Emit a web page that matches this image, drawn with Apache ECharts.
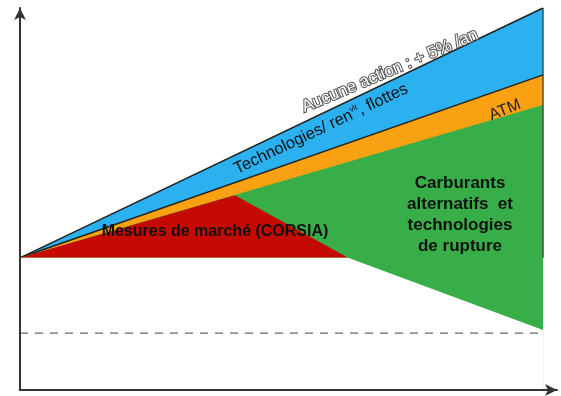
<!DOCTYPE html>
<html>
<head>
<meta charset="utf-8">
<script src="https://cdn.jsdelivr.net/npm/echarts@6/dist/echarts.min.js"></script>
<style>
  html, body { margin: 0; padding: 0; background: #fff; }
  #chart { width: 561px; height: 396px; }
</style>
</head>
<body>
<div id="chart"></div>
<script>
// trajectoires (x : temps, y : émissions, unités arbitraires)
const sansAction = [[0, 34.6], [97.4, 100]];        // Aucune action : +5%/an
const technologies = [[0, 34.6], [97.4, 82.5]];     // Technologies / renouvellement flottes
const atm = [[0, 34.6], [97.4, 74.6]];              // ATM
const corsia = [[0, 34.6], [40, 51.0], [61.1, 34.6]]; // Mesures de marché
const sousCarburants = [[0, 34.6], [61.1, 34.6], [97.4, 15.7]];
const objectif = [[0, 14.9], [97.4, 14.9]];
const bordDroit = [[97.4, 34.6], [97.4, 100]];
const baseLevel = 34.6;

const BLUE = "#2BB0F0", ORANGE = "#F9A013", GREEN = "#37AE47", RED = "#C40A02";

const chart = echarts.init(document.getElementById("chart"));

function area(name, data, color, z, lineColor, origin) {
    return {
        name: name,
        type: "line",
        data: data,
        symbol: "none",
        z: z,
        lineStyle: { color: lineColor || color, width: lineColor ? 1.5 : 0 },
        areaStyle: { color: color, opacity: 1, origin: origin === undefined ? "start" : origin },
        silent: true,
        animation: false,
    };
}

const option = {
    backgroundColor: "#fff",
    animation: false,
    grid: { left: 20, right: 4, top: 8, bottom: 6 },
    xAxis: {
        type: "value",
        min: 0,
        max: 100,
        z: 20,
        axisLine: {
            show: true,
            lineStyle: { color: "#333", width: 2 },
            symbol: ["none", "arrow"],
            symbolSize: [9, 12],
        },
        axisTick: { show: false },
        axisLabel: { show: false },
        splitLine: { show: false },
    },
    yAxis: {
        type: "value",
        min: 0,
        max: 100,
        z: 20,
        axisLine: {
            show: true,
            lineStyle: { color: "#333", width: 2 },
            symbol: ["none", "arrow"],
            symbolSize: [9, 12],
        },
        axisTick: { show: false },
        axisLabel: { show: false },
        splitLine: { show: false },
    },
    series: [
        area("Aucune action", sansAction, BLUE, 2, "#222"),
        area("Technologies", technologies, ORANGE, 3, "#222"),
        area("ATM", atm, GREEN, 4),
        area("CORSIA", corsia, RED, 5, null, baseLevel),
        area("blanc", sousCarburants, "#fff", 6),
        {
            name: "bord",
            type: "line",
            data: bordDroit,
            symbol: "none",
            z: 7,
            lineStyle: { color: "#333", width: 1.2 },
            silent: true,
        },
        {
            name: "objectif",
            type: "line",
            data: objectif,
            symbol: "none",
            z: 8,
            lineStyle: { color: "#666", width: 1.3, type: [8, 7] },
            silent: true,
        },
    ],
    graphic: [
        {
            type: "text",
            x: 390, y: 71, rotation: 23 * Math.PI / 180,
            style: {
                text: "Aucune action : + 5% /an",
                fill: "#fff",
                stroke: "#555",
                lineWidth: 2,
                font: "17px 'Liberation Sans', Arial, sans-serif",
                align: "center", verticalAlign: "middle",
            },
            z: 50,
        },
        {
            type: "text",
            x: 321, y: 129, rotation: 25.5 * Math.PI / 180,
            style: {
                text: "{a|Technologies/ ren}{s|vlt}{a|, flottes}",
                rich: {
                    a: { font: "16.5px 'Liberation Sans', Arial, sans-serif", fill: "#111" },
                    s: { font: "8px 'Liberation Sans', Arial, sans-serif", fill: "#111", verticalAlign: "top", padding: [0, 0, 8, 0] },
                },
                align: "center", verticalAlign: "middle",
            },
            z: 50,
        },
        {
            type: "text",
            x: 505, y: 110, rotation: 22 * Math.PI / 180,
            style: {
                text: "ATM",
                fill: "#222",
                font: "16px 'Liberation Sans', Arial, sans-serif",
                align: "center", verticalAlign: "middle",
            },
            z: 50,
        },
        {
            type: "text",
            x: 215, y: 232,
            style: {
                text: "Mesures de marché (CORSIA)",
                fill: "#111",
                font: "bold 16px 'Liberation Sans', Arial, sans-serif",
                align: "center", verticalAlign: "middle",
            },
            z: 50,
        },
        {
            type: "text",
            x: 460, y: 215,
            style: {
                text: "Carburants\nalternatifs  et\ntechnologies\nde rupture",
                fill: "#111",
                font: "bold 17px 'Liberation Sans', Arial, sans-serif",
                lineHeight: 21,
                align: "center", verticalAlign: "middle",
            },
            z: 50,
        },
    ],
};

chart.setOption(option);
</script>
</body>
</html>
